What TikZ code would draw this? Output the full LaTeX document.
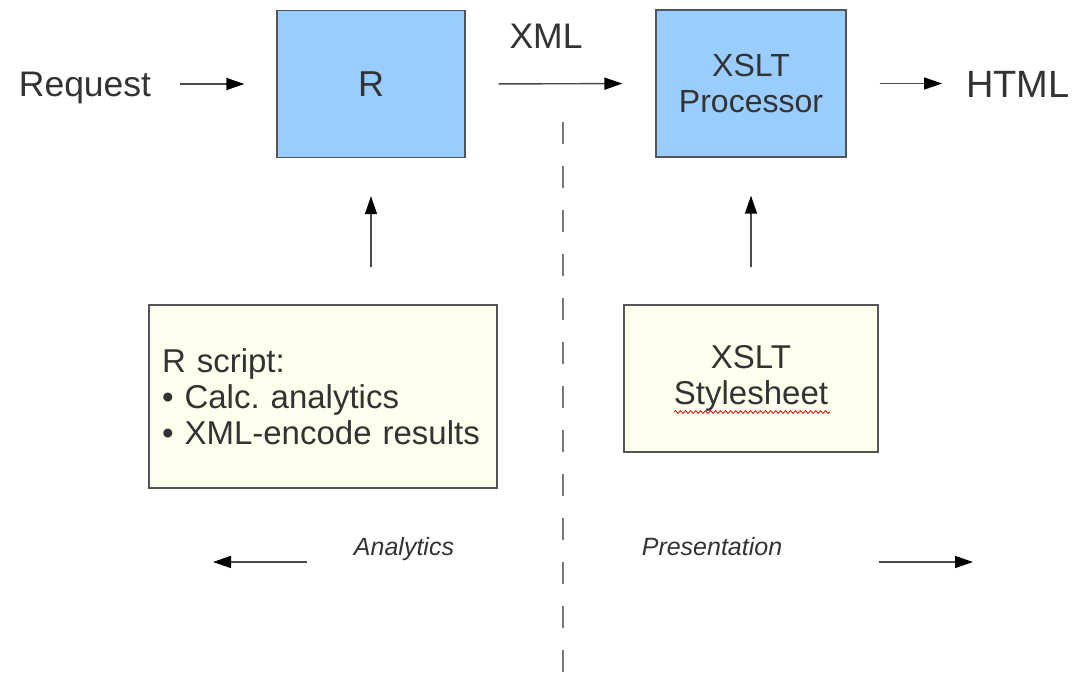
\documentclass[tikz,border=0pt]{standalone}
\usepackage{fontspec}
\setmainfont{Liberation Sans}
\usetikzlibrary{arrows.meta,decorations.pathmorphing}
\definecolor{boxblue}{HTML}{99CCFF}
\definecolor{boxcream}{HTML}{FFFFEE}
\definecolor{edge}{HTML}{555555}
\definecolor{txt}{HTML}{333333}
\definecolor{lineg}{HTML}{4A4A4A}
\frenchspacing
\begin{document}
\begin{tikzpicture}[x=1pt,y=-1pt,
  lbl/.style={inner sep=0pt,text=txt,font=\fontsize{35.5}{40}\selectfont},
  itl/.style={inner sep=0pt,text=txt,font=\fontsize{25}{30}\selectfont\itshape},
  bluebox/.style={draw=edge,line width=1.3pt,fill=boxblue,text=txt,inner sep=0pt,align=center},
  creambox/.style={draw=edge,line width=1.3pt,fill=boxcream,text=txt,inner sep=0pt,font=\fontsize{33}{36}\selectfont},
  flow/.style={draw=lineg,line width=1.4pt,-{Triangle[length=18pt,width=12pt,black]}}]
\useasboundingbox (0,0) rectangle (1075,672);
\fill[white] (0,0) rectangle (1075,672);
% boxes
\node[bluebox,minimum width=188pt,minimum height=147pt,font=\fontsize{36}{40}\selectfont] (rbox) at (371,84) {R};
\node[bluebox,minimum width=190pt,minimum height=147pt,font=\fontsize{32}{36}\selectfont] (xslt) at (751,83.5) {XSLT\\Processor};
\node[creambox,minimum width=348pt,minimum height=183pt,text width=322pt,align=left] (rscript) at (323,396.5) {R script:\\\textbullet\ Calc. analytics\\\textbullet\ XML-encode results};
\node[creambox,minimum width=254pt,minimum height=147pt,align=center] (sheet) at (751,378.5) {XSLT\\Stylesheet};
% labels
\node[lbl,anchor=base] (req) at (85,96) {Request};
\node[lbl,anchor=base] (xml) at (546,48) {XML};
\node[lbl,anchor=base,font=\fontsize{38}{42}\selectfont] (html) at (1018,97) {HTML};
\node[itl,anchor=base] (ana) at (404,555) {Analytics};
\node[itl,anchor=base] (pres) at (712,555) {Presentation};
% connectors
\draw[flow,shorten <=29pt,shorten >=32pt] (req.east |- rbox.west) -- (rbox.west);
\draw[flow,shorten <=33pt,shorten >=33pt] (rbox.east) -- (xslt.west);
\draw[flow,shorten <=33pt,shorten >=24pt] (xslt.east) -- (xslt.east -| html.west);
\draw[flow,shorten <=37pt,shorten >=38pt] (rbox.south |- rscript.north) -- (rbox.south);
\draw[flow,shorten <=37pt,shorten >=38pt] (sheet.north) -- (xslt.south);
% direction arrows
\coordinate (aS) at (307,562);
\coordinate (aE) at (213,562);
\coordinate (pS) at (879,562);
\coordinate (pE) at (973,562);
\draw[flow] (aS) -- (aE);
\draw[flow] (pS) -- (pE);
% divider
\coordinate (dT) at (563,122);
\coordinate (dB) at (563,672);
\draw[draw=edge!80,line width=1.2pt,dash pattern=on 22pt off 22pt] (dT) -- (dB);
% spell-check squiggle
\coordinate (sqA) at (674,412);
\coordinate (sqB) at (830,412);
\draw[red!80!black,line width=0.8pt,decorate,decoration={snake,amplitude=1.3pt,segment length=5pt}] (sqA) -- (sqB);
\end{tikzpicture}
\end{document}
